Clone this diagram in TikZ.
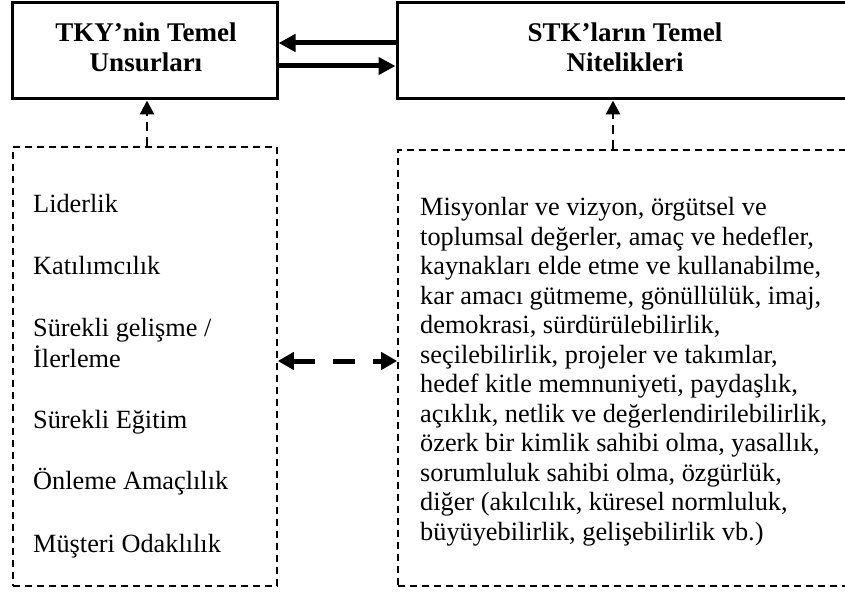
\documentclass[tikz,border=0pt]{standalone}
\usepackage{fontspec}
\setmainfont{Liberation Serif}
\usetikzlibrary{arrows.meta}
\tikzset{
  solidbox/.style={draw, line width=3pt, inner sep=0pt},
  dashbox/.style={draw, line width=1.6pt, dash pattern=on 7pt off 5pt, inner sep=0pt},
  headtext/.style={font=\bfseries\fontsize{27}{30}\selectfont, align=center, inner sep=0pt, anchor=base},
  itemtext/.style={font=\fontsize{26.3}{31}\selectfont, align=left, inner sep=0pt, anchor=base west},
  bodytext/.style={font=\fontsize{26.3}{29.5}\selectfont, align=left, inner sep=0pt, anchor=base west},
  boldarrow/.style={line width=5pt, -{Triangle[length=17pt,width=17pt]}},
  uparrow/.style={line width=2.5pt, dash pattern=on 9pt off 6pt, -{Triangle[length=14pt,width=14pt]}},
  midarrow/.style={line width=5pt, dash pattern=on 22pt off 18pt, {Triangle[length=16pt,width=17pt]}-{Triangle[length=16pt,width=17pt]}}
}
\begin{document}
\begin{tikzpicture}[x=1pt,y=-1pt]
\useasboundingbox (0,0) rectangle (845,591);
% solid boxes
\node[solidbox, minimum width=265pt, minimum height=96pt] (tky) at (144.5,51) {};
\node[solidbox, minimum width=456pt, minimum height=96pt] (stk) at (625,51) {};
% multi-line nodes: base anchor sits on the last line's baseline
\node[headtext] (tkyt) at (146,72) {TKY’nin Temel\\Unsurları};
\node[headtext] (stkt) at (625,72) {STK’ların Temel\\Nitelikleri};
% dashed boxes
\node[dashbox, minimum width=264pt, minimum height=439pt] (lbox) at (145,366.5) {};
\node[dashbox, minimum width=462pt, minimum height=436pt] (rbox) at (629,368) {};
% left items
\node[itemtext] (i1) at (33,212) {Liderlik};
\node[itemtext] (i2) at (33,274) {Katılımcılık};
\node[itemtext] (i3) at (33,367) {Sürekli gelişme /\\İlerleme};
\node[itemtext] (i4) at (33,428) {Sürekli Eğitim};
\node[itemtext] (i5) at (33,489) {Önleme Amaçlılık};
\node[itemtext] (i6) at (33,552) {Müşteri Odaklılık};
% right text
\node[bodytext] (rt) at (420,540) {Misyonlar ve vizyon, örgütsel ve\\
toplumsal değerler, amaç ve hedefler,\\
kaynakları elde etme ve kullanabilme,\\
kar amacı gütmeme, gönüllülük, imaj,\\
demokrasi, sürdürülebilirlik,\\
seçilebilirlik, projeler ve takımlar,\\
hedef kitle memnuniyeti, paydaşlık,\\
açıklık, netlik ve değerlendirilebilirlik,\\
özerk bir kimlik sahibi olma, yasallık,\\
sorumluluk sahibi olma, özgürlük,\\
diğer (akılcılık, küresel normluluk,\\
büyüyebilirlik, gelişebilirlik vb.)};
% arrows between solid boxes
\draw[boldarrow] ([yshift=8pt]stk.west) -- ([yshift=8pt]tky.east);
\draw[boldarrow] ([yshift=-15pt]tky.east) -- ([yshift=-15pt]stk.west);
% up arrows
\draw[uparrow] ([xshift=2pt]lbox.north) -- ([xshift=2pt]lbox.north |- tky.south);
\draw[uparrow] ([xshift=-16pt]rbox.north) -- ([xshift=-16pt]rbox.north |- stk.south);
% middle double arrow
\coordinate (mid) at (0,361);
\draw[midarrow] (lbox.east |- mid) -- (rbox.west |- mid);
\end{tikzpicture}
\end{document}
